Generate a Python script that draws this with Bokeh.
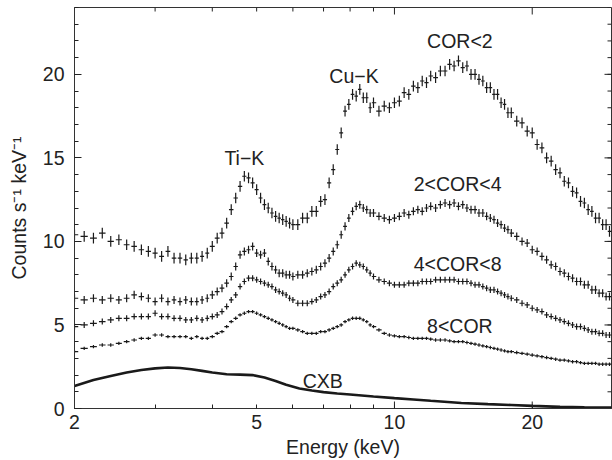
import math
from bokeh.plotting import figure
from bokeh.models import Range1d, FixedTicker, BasicTickFormatter, ColumnDataSource
from bokeh.core.properties import value
from bokeh.embed import file_html
from bokeh.resources import INLINE

# Energy bins (keV), shared by the four COR spectra
energy = [2.0, 2.1, 2.2, 2.3, 2.4, 2.5, 2.6, 2.7, 2.8, 2.9,
          3.0, 3.1, 3.2, 3.3, 3.4, 3.5, 3.6, 3.7, 3.8, 3.9,
          4.0, 4.1, 4.2, 4.3, 4.4, 4.5, 4.6, 4.7, 4.8, 4.9,
          5.0, 5.1, 5.2, 5.3, 5.4, 5.5, 5.6, 5.7, 5.8, 5.9, 6.0,
          6.15, 6.3, 6.45, 6.6, 6.75, 6.9, 7.05, 7.2, 7.35, 7.5,
          7.65, 7.8, 7.95, 8.1, 8.25, 8.4, 8.55, 8.7, 8.85, 9.0,
          9.25, 9.5, 9.75, 10.0, 10.25, 10.5, 10.75, 11.0, 11.25, 11.5, 11.75, 12.0,
          12.3, 12.6, 12.9, 13.2, 13.5, 13.8, 14.1, 14.4, 14.7, 15.0,
          15.3, 15.6, 15.9, 16.2, 16.5, 16.8, 17.1, 17.4, 17.7, 18.0,
          18.5, 19.0, 19.5, 20.0, 20.5, 21.0, 21.5, 22.0, 22.5, 23.0,
          23.5, 24.0, 24.5, 25.0, 25.5, 26.0, 26.5, 27.0, 27.5, 28.0,
          28.5, 29.0, 29.5, 30.0]

cor_lt2 = [10.4, 10.3, 10.2, 10.5, 10.0, 10.1, 9.8, 9.7, 9.5, 9.4,
           9.3, 9.1, 9.4, 9.0, 9.0, 8.9, 9.0, 9.0, 9.1, 9.3,
           9.7, 10.2, 10.5, 11.1, 11.9, 12.6, 13.3, 13.9, 13.8, 13.5,
           13.1, 12.6, 12.2, 12.0, 11.7, 11.5, 11.4, 11.3, 11.2, 11.1, 11.0,
           11.0, 11.4, 11.4, 11.8, 11.8, 12.4, 12.5, 13.5, 14.3, 15.5,
           16.5, 17.8, 18.2, 18.8, 18.7, 19.1, 18.6, 18.6, 18.0, 18.3,
           17.8, 18.1, 18.0, 18.3, 18.4, 18.9, 18.8, 19.3, 19.2, 19.6, 19.5, 19.9,
           19.8, 20.2, 20.2, 20.6, 20.5, 20.8, 20.4, 20.5, 20.0, 20.0,
           19.7, 19.6, 19.2, 19.2, 18.8, 18.8, 18.3, 18.2, 17.7, 17.7,
           17.2, 17.1, 16.6, 16.5, 15.8, 15.6, 15.0, 14.8, 14.3, 14.1,
           13.6, 13.5, 13.0, 12.9, 12.4, 12.3, 11.9, 11.8, 11.4, 11.4,
           11.0, 11.0, 10.6, 10.6]

cor_2_4 = [6.6, 6.5, 6.6, 6.5, 6.6, 6.5, 6.6, 6.8, 6.7, 6.6,
           6.4, 6.6, 6.4, 6.5, 6.4, 6.5, 6.4, 6.4, 6.5, 6.6,
           6.8, 7.0, 7.2, 7.5, 7.9, 8.5, 9.2, 9.4, 9.5, 9.7,
           9.3, 9.2, 9.3, 8.8, 8.5, 8.3, 8.1, 8.1, 8.0, 8.0, 7.9,
           8.0, 8.0, 8.1, 8.2, 8.3, 8.5, 8.7, 9.0, 9.4, 9.8,
           10.4, 10.9, 11.4, 11.8, 12.1, 12.2, 12.0, 11.9, 11.7, 11.7,
           11.5, 11.4, 11.3, 11.4, 11.5, 11.7, 11.6, 11.8, 11.9, 11.8, 12.0, 12.1,
           12.0, 12.2, 12.3, 12.2, 12.3, 12.1, 12.2, 12.0, 11.9, 11.9,
           11.7, 11.7, 11.5, 11.4, 11.3, 11.1, 11.0, 10.8, 10.7, 10.5,
           10.3, 10.0, 9.9, 9.5, 9.4, 9.1, 8.9, 8.6, 8.5, 8.2,
           8.1, 7.9, 7.8, 7.6, 7.6, 7.4, 7.4, 7.1, 7.1, 6.9,
           6.9, 6.7, 6.7, 6.5]

cor_4_8 = [4.9, 5.0, 5.1, 5.2, 5.3, 5.4, 5.4, 5.5, 5.5, 5.5,
           5.7, 5.5, 5.5, 5.4, 5.4, 5.3, 5.3, 5.4, 5.3, 5.4,
           5.5, 5.6, 5.8, 6.1, 6.5, 6.8, 7.3, 7.6, 7.8, 7.8,
           7.7, 7.6, 7.5, 7.4, 7.3, 7.1, 7.0, 6.9, 6.8, 6.6, 6.5,
           6.3, 6.3, 6.3, 6.4, 6.5, 6.7, 6.8, 7.0, 7.3, 7.5,
           7.7, 8.0, 8.3, 8.5, 8.7, 8.6, 8.5, 8.3, 8.1, 7.9,
           7.7, 7.6, 7.5, 7.4, 7.4, 7.4, 7.5, 7.5, 7.5, 7.6, 7.6, 7.6,
           7.7, 7.7, 7.7, 7.7, 7.7, 7.6, 7.6, 7.6, 7.5, 7.4,
           7.4, 7.3, 7.2, 7.1, 7.1, 7.0, 6.9, 6.8, 6.7, 6.6,
           6.5, 6.3, 6.2, 6.0, 5.9, 5.8, 5.6, 5.5, 5.4, 5.3,
           5.2, 5.1, 5.0, 4.9, 4.9, 4.8, 4.7, 4.6, 4.6, 4.5,
           4.5, 4.4, 4.4, 4.4]

cor_gt8 = [3.4, 3.6, 3.7, 3.8, 3.8, 3.9, 4.0, 4.1, 4.2, 4.2,
           4.4, 4.4, 4.3, 4.3, 4.3, 4.3, 4.2, 4.3, 4.2, 4.2,
           4.3, 4.5, 4.6, 4.9, 5.2, 5.4, 5.6, 5.7, 5.8, 5.8,
           5.7, 5.6, 5.5, 5.4, 5.3, 5.2, 5.1, 5.0, 4.9, 4.8, 4.8,
           4.7, 4.6, 4.5, 4.5, 4.5, 4.6, 4.6, 4.7, 4.8, 4.9,
           5.0, 5.2, 5.3, 5.4, 5.4, 5.4, 5.3, 5.2, 5.0, 4.9,
           4.7, 4.5, 4.4, 4.35, 4.3, 4.3, 4.25, 4.2, 4.2, 4.2, 4.2, 4.15,
           4.1, 4.1, 4.1, 4.05, 4.0, 4.0, 4.0, 3.95, 3.9, 3.85,
           3.8, 3.75, 3.7, 3.65, 3.6, 3.55, 3.5, 3.45, 3.4, 3.4,
           3.35, 3.3, 3.25, 3.2, 3.15, 3.1, 3.05, 3.0, 2.95, 2.9,
           2.9, 2.85, 2.8, 2.8, 2.75, 2.7, 2.7, 2.7, 2.7, 2.65,
           2.65, 2.65, 2.65, 2.65]

# 1-sigma errors per spectrum (counts/s/keV)
errors = [0.32, 0.24, 0.18, 0.1]

# Cosmic X-ray background model
cxb_energy = [2.0, 2.2, 2.4, 2.6, 2.8, 3.0, 3.2, 3.4, 3.6, 3.8, 4.0, 4.3, 4.6, 4.9,
              5.2, 5.5, 5.8, 6.2, 6.6, 7.0, 7.5, 8.0, 9.0, 10.0, 11.0, 12.0, 14.0,
              16.0, 18.0, 20.0, 23.0, 26.0, 30.0]
cxb = [1.35, 1.7, 1.95, 2.15, 2.3, 2.4, 2.45, 2.42, 2.35, 2.25, 2.15, 2.05, 2.03, 2.0,
       1.85, 1.65, 1.42, 1.2, 1.08, 0.98, 0.9, 0.84, 0.72, 0.62, 0.54, 0.46, 0.33,
       0.26, 0.21, 0.16, 0.1, 0.07, 0.05]

label_text = ["COR<2", "Cu\u2212K", "Ti\u2212K", "2<COR<4", "4<COR<8", "8<COR", "CXB"]
label_x = [13.9, 8.16, 4.70, 13.74, 13.74, 13.9, 6.97]
label_y = [22.0, 19.9, 14.97, 13.41, 8.65, 4.94, 1.65]

x_ticks = [2, 5, 10, 20]
x_long = [10, 20]
x_minor = [3, 4, 5, 6, 7, 8, 9]
y_ticks = [0, 5, 10, 15, 20]
y_minor = list(range(0, 25))

FONT = "Liberation Sans"
INK = "#1a1a1a"
X_END, Y_END = 29.8, 24

p = figure(width=612, height=460, x_axis_type="log",
           x_range=Range1d(2, X_END), y_range=Range1d(0, Y_END),
           output_backend="svg", toolbar_location=None,
           min_border_left=74, min_border_right=1, min_border_top=7, min_border_bottom=52)
p.grid.visible = False
p.outline_line_color = "#333333"
p.background_fill_color = "white"
p.border_fill_color = "white"

for ax in [p.xaxis[0], p.yaxis[0]]:
    ax.axis_line_color = "#333333"
    ax.major_tick_line_color = "#222222"
    ax.minor_tick_line_color = "#222222"
    ax.major_tick_out = 0
    ax.minor_tick_in = 4
    ax.minor_tick_out = 0
    ax.major_label_text_font = FONT
    ax.major_label_text_color = "#222222"
    ax.major_label_text_font_size = "19.5px"
    ax.axis_label_text_font = FONT
    ax.axis_label_text_font_style = "normal"
    ax.axis_label_text_color = "#222222"
    ax.axis_label_text_font_size = "19.5px"

p.xaxis.ticker = FixedTicker(ticks=x_ticks, minor_ticks=[3, 4, 6, 7, 8, 9])
p.xaxis.formatter = BasicTickFormatter()
p.xaxis.major_tick_in = 4
p.yaxis.ticker = FixedTicker(ticks=y_ticks, minor_ticks=y_minor)
p.yaxis.major_tick_in = 7
p.xaxis.axis_label = "Energy (keV)"
p.yaxis.axis_label = "Counts s\u207b\u00b9 keV\u207b\u00b9"
p.xaxis.major_label_standoff = 6
p.xaxis.axis_label_standoff = 4
p.yaxis.major_label_standoff = 10
p.yaxis.axis_label_standoff = 10

# mirrored tick marks on the top and right frame edges, longer marks at 10 and 20 keV
p.ray(x=x_long, y=[0] * len(x_long), length=7, length_units="screen", angle=math.pi / 2,
      line_color="#222222", line_width=1)
p.ray(x=x_long, y=[Y_END] * len(x_long), length=7, length_units="screen", angle=-math.pi / 2,
      line_color="#222222", line_width=1)
p.ray(x=x_minor, y=[Y_END] * len(x_minor), length=4, length_units="screen", angle=-math.pi / 2,
      line_color="#222222", line_width=1)
p.ray(x=[X_END] * len(y_minor), y=y_minor, length=4, length_units="screen", angle=math.pi,
      line_color="#222222", line_width=1)
p.ray(x=[X_END] * len(y_ticks), y=y_ticks, length=7, length_units="screen", angle=math.pi,
      line_color="#222222", line_width=1)

# error-bar crosses
n = len(energy)
lo, hi = [], []
for i in range(n):
    gl = energy[i] - energy[i - 1] if i > 0 else energy[1] - energy[0]
    gr = energy[i + 1] - energy[i] if i < n - 1 else energy[-1] - energy[-2]
    f = 0.38 if energy[i] < 4.0 else 0.5
    lo.append(energy[i] - f * gl)
    hi.append(energy[i] + f * gr)

for series, err in zip([cor_lt2, cor_2_4, cor_4_8, cor_gt8], errors):
    src = ColumnDataSource(dict(x=energy, lo=lo, hi=hi, y=series,
                                ylo=[v - err for v in series], yhi=[v + err for v in series]))
    p.segment(x0="lo", x1="hi", y0="y", y1="y", source=src, line_color=INK, line_width=1.2)
    p.segment(x0="x", x1="x", y0="ylo", y1="yhi", source=src, line_color=INK, line_width=1.2)

p.line(cxb_energy, cxb, line_color=INK, line_width=2.6)

p.text(x=label_x, y=label_y, text=label_text, text_font=value(FONT), text_font_size="19.5px",
       text_color="#222222", text_align="center", text_baseline="middle")

open("out.html", "w").write(file_html(p, INLINE))
